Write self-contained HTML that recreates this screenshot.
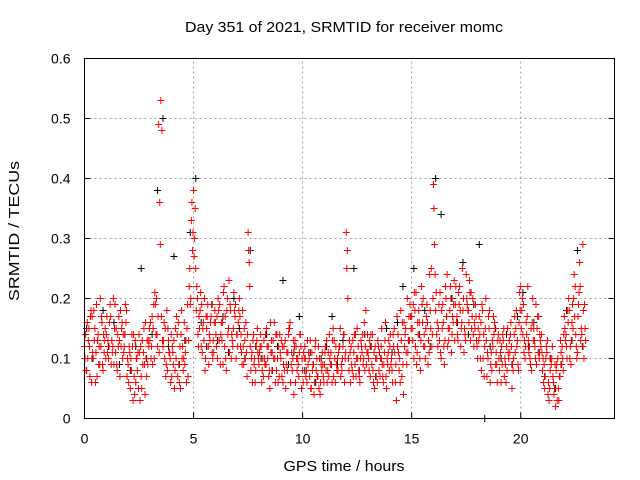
<!DOCTYPE html>
<html><head><meta charset="utf-8">
<style>
body{margin:0;background:#fff;}
svg{display:block;font-family:"Liberation Sans",sans-serif;}
</style></head>
<body>
<svg id="chart" width="640" height="480" viewBox="0 0 640 480">
<text x="344" y="32" font-size="15" text-anchor="middle" textLength="318" lengthAdjust="spacingAndGlyphs" fill="#000">Day 351 of 2021, SRMTID for receiver momc</text>
<text transform="translate(19,231) rotate(-90)" font-size="15" text-anchor="middle" textLength="140" lengthAdjust="spacingAndGlyphs" fill="#000">SRMTID / TECUs</text>
<text x="344" y="471" font-size="15" text-anchor="middle" textLength="121" lengthAdjust="spacingAndGlyphs" fill="#000">GPS time / hours</text>
<g id="grid"></g>
<g id="ticks"></g>
<g id="black"></g>
<g id="red"></g>
<rect x="84.5" y="58.5" width="530" height="360" fill="none" stroke="#000" stroke-width="1"/>
</svg>
<script>
const xTicks=[0,5,10,15,20];
const yTicks=[0,0.1,0.2,0.3,0.4,0.5,0.6];
const yTickLabels=["0","0.1","0.2","0.3","0.4","0.5","0.6"];
const redA=[.12,.08,.15,.18,.10,.06,.13,.09,.16,.11,
.14,.10,.17,.12,.19,.08,.13,.15,.11,.16,
.09,.05,.12,.04,.10,.14,.07,.11,.16,.09,
.13,.17,.10,.20,.49,.53,.12,.15,.08,.11,
.07,.13,.10,.16,.05,.12,.09,.15,.22,.33,
.38,.25,.14,.18,.11,.20,.15,.09,.17,.13,
.16,.10,.19,.13,.22,.08,.15,.18,.12,.17,
.14,.20,.11,.09,.16,.31,.12,.06,.10,.13,
.09,.12,.07,.14,.10,.05,.11,.16,.08,.12,
.10,.06,.13,.08,.15,.11,.04,.12,.09,.14,
.08,.12,.06,.10,.05,.09,.13,.07,.04,.11,
.09,.13,.07,.11,.15,.06,.10,.12,.08,.14,
.31,.10,.06,.13,.09,.15,.07,.12,.10,.18,
.11,.07,.14,.05,.10,.08,.12,.06,.16,.09,
.12,.08,.15,.03,.11,.18,.09,.14,.20,.13,
.17,.10,.21,.14,.08,.16,.12,.19,.11,.25,
.39,.18,.12,.21,.15,.09,.17,.13,.20,.16,
.19,.14,.22,.16,.11,.24,.18,.13,.20,.15,
.12,.17,.08,.14,.20,.10,.06,.13,.16,.09,
.10,.06,.13,.09,.15,.11,.05,.14,.18,.08,
.22,.14,.10,.17,.12,.08,.15,.19,.11,.13,
.08,.05,.11,.03,.09,.06,.02,.10,.07,.12,
.17,.12,.20,.09,.15,.22,.11,.26,.14,.10];
const redB=[.14,.10,.07,.17,.13,.19,.09,.12,.08,.15,
.11,.16,.13,.09,.15,.12,.18,.10,.14,.07,
.12,.08,.14,.06,.11,.03,.13,.09,.07,.12,
.10,.15,.19,.12,.36,.48,.16,.09,.13,.06,
.11,.08,.14,.06,.18,.10,.13,.07,.19,.28,
.30,.22,.17,.12,.16,.10,.19,.13,.11,.16,
.12,.18,.14,.09,.17,.20,.11,.14,.21,.10,
.16,.12,.18,.13,.07,.26,.10,.14,.08,.11,
.12,.08,.10,.15,.07,.11,.13,.06,.10,.14,
.07,.12,.09,.14,.06,.10,.13,.08,.11,.05,
.11,.07,.09,.13,.08,.06,.10,.05,.09,.07,
.12,.08,.10,.06,.13,.09,.11,.07,.12,.10,
.28,.13,.09,.11,.07,.12,.10,.14,.08,.11,
.08,.12,.06,.10,.13,.07,.09,.11,.05,.13,
.09,.14,.06,.12,.10,.07,.16,.11,.13,.17,
.13,.18,.11,.16,.22,.12,.15,.09,.18,.14,
.29,.14,.19,.10,.16,.22,.12,.18,.14,.23,
.16,.21,.12,.18,.14,.19,.23,.15,.12,.17,
.15,.10,.18,.12,.07,.15,.11,.17,.09,.13,
.13,.09,.07,.12,.10,.16,.08,.11,.13,.21,
.18,.11,.16,.13,.09,.20,.12,.15,.10,.14,
.06,.10,.04,.08,.12,.05,.09,.03,.11,.08,
.13,.18,.10,.16,.24,.12,.19,.13,.29,.15];
const redC=[.10,.16,.12,.06,.18,.11,.14,.20,.09,.13,
.17,.12,.09,.20,.11,.14,.07,.16,.12,.18,
.06,.10,.03,.13,.08,.11,.05,.15,.10,.13,
.16,.09,.21,.14,.11,.17,.13,.07,.15,.10,
.12,.05,.17,.09,.14,.08,.11,.19,.25,.36,
.27,.18,.12,.21,.15,.08,.17,.14,.19,.11,
.14,.20,.09,.16,.12,.18,.23,.10,.15,.19,
.12,.17,.09,.15,.11,.28,.08,.13,.06,.15,
.11,.06,.13,.09,.12,.16,.08,.10,.14,.07,
.13,.09,.05,.11,.16,.08,.12,.10,.07,.12,
.06,.10,.13,.07,.11,.04,.08,.12,.06,.09,
.11,.06,.14,.09,.07,.12,.08,.15,.10,.06,
.25,.08,.12,.07,.14,.10,.06,.11,.16,.09,
.10,.14,.08,.12,.06,.11,.15,.09,.07,.11,
.14,.06,.11,.17,.08,.13,.04,.15,.11,.19,
.15,.21,.09,.18,.13,.20,.10,.16,.24,.12,
.35,.21,.15,.11,.19,.13,.24,.15,.11,.19,
.22,.13,.18,.25,.15,.20,.16,.21,.14,.19,
.10,.14,.19,.07,.13,.17,.09,.12,.15,.06,
.08,.12,.15,.06,.11,.14,.09,.17,.12,.16,
.15,.19,.12,.22,.10,.16,.13,.09,.17,.12,
.10,.07,.13,.05,.10,.04,.08,.05,.13,.10,
.15,.10,.18,.13,.20,.14,.17,.22,.12,.19];
const redD=[.08,.13,.17,.11,.15,.07,.12,.17,.14,.10,
.13,.19,.11,.15,.09,.17,.12,.14,.19,.10,
.11,.14,.07,.10,.05,.12,.09,.04,.13,.15,
.12,.19,.14,.17,.29,.13,.10,.18,.11,.14,
.09,.15,.07,.12,.10,.16,.06,.13,.20,.31,
.35,.20,.15,.19,.13,.17,.12,.16,.10,.18,
.17,.13,.16,.21,.10,.14,.19,.13,.18,.14,
.18,.14,.12,.10,.14,.22,.11,.09,.12,.10,
.14,.10,.09,.12,.08,.13,.10,.14,.06,.11,
.12,.08,.11,.15,.09,.13,.06,.10,.14,.10,
.10,.08,.11,.05,.09,.12,.07,.10,.08,.06,
.08,.11,.09,.13,.10,.08,.12,.09,.14,.11,
.20,.11,.08,.14,.10,.08,.13,.09,.12,.14,
.13,.09,.11,.07,.12,.10,.07,.13,.10,.08,
.10,.12,.09,.14,.06,.16,.12,.09,.17,.15,
.19,.12,.16,.10,.19,.14,.17,.13,.15,.20,
.24,.16,.13,.18,.12,.20,.15,.22,.17,.13,
.17,.19,.15,.20,.13,.18,.21,.17,.16,.13,
.13,.16,.10,.15,.11,.18,.08,.14,.11,.14,
.11,.14,.10,.08,.13,.12,.10,.15,.09,.18,
.20,.13,.14,.11,.15,.13,.10,.17,.14,.11,
.09,.12,.06,.10,.07,.09,.03,.07,.09,.14,
.14,.16,.12,.19,.17,.10,.21,.15,.18,.13];
const blackVals=[.15,.10,.13,.18,.12,.16,.09,.14,.08,.12,.25,.10,.14,.38,.50,.12,
.27,.09,.13,.31,.40,.16,.12,.19,.13,.17,.11,.20,.15,.10,.28,.12,
.10,.14,.08,.12,.23,.09,.11,.17,.08,.11,.06,.10,.12,.17,.09,.13,
.10,.25,.08,.14,.12,.07,.10,.15,.11,.16,.22,.13,.25,.14,.18,.12,
.40,.34,.17,.20,.16,.26,.14,.19,.29,.00,.12,.15,.10,.14,.09,.17,
.21,.12,.16,.11,.07,.10,.05,.09,.18,.13,.28,.12];
const redStep=0.1, blackStep=0.25;

const X0=84.5,X1=614.5,Y0=418.5,Y1=58.5,XMAX=24.3,YMAX=0.6;
const sx=v=>X0+(X1-X0)*v/XMAX;
const sy=v=>Y0-(Y0-Y1)*v/YMAX;
const NS="http://www.w3.org/2000/svg";
function mk(tag,attrs,parent){const e=document.createElementNS(NS,tag);for(const k in attrs)e.setAttribute(k,attrs[k]);parent.appendChild(e);return e;}
const grid=document.getElementById('grid'),ticks=document.getElementById('ticks');
xTicks.forEach((t,i)=>{
  const x=sx(t);
  if(t>0){const g=mk('line',{x1:x,x2:x,y1:Y0,y2:Y1,stroke:'#a0a0a0','stroke-dasharray':'2,3'},grid);
  
  }
  const tk=mk('line',{x1:x,x2:x,y1:Y0,y2:Y0-6,stroke:'#000'},ticks);
  
  
  const tx=mk('text',{x:x,y:Y0+25,'font-size':14,'text-anchor':'middle'},ticks);
  tx.textContent=String(t);
  
  
});
yTicks.forEach((t,i)=>{
  const y=sy(t);
  if(t>0&&t<YMAX){const g=mk('line',{x1:X0,x2:X1,y1:y,y2:y,stroke:'#a0a0a0','stroke-dasharray':'2,3'},grid);
  
  }
  const tk=mk('line',{x1:X0,x2:X0+6,y1:y,y2:y,stroke:'#000'},ticks);
  
  
  const tk2=mk('line',{x1:X1,x2:X1-6,y1:y,y2:y,stroke:'#000'},ticks);
  
  
  const tx=mk('text',{x:X0-14,y:y+5,'font-size':14,'text-anchor':'end'},ticks);
  tx.textContent=yTickLabels[i];
  
  
});
function plus(g,t,v,col){
  const x=sx(t),y=sy(v);
  const p=mk('path',{d:`M${x-3.5},${y}H${x+3.5}M${x},${y-3.5}V${y+3.5}`,stroke:col,'stroke-width':1,fill:'none'},g);
  
  
}
const bg=document.getElementById('black'),rg=document.getElementById('red');
blackVals.forEach((v,i)=>plus(bg,i*blackStep+0.1,v,'#000'));
redA.forEach((v,i)=>plus(rg,i*redStep,v,'#f00'));
redC.forEach((v,i)=>plus(rg,i*redStep+0.025,v,'#f00'));
redB.forEach((v,i)=>plus(rg,i*redStep+0.05,v,'#f00'));
redD.forEach((v,i)=>plus(rg,i*redStep+0.075,v,'#f00'));
</script>
</body></html>
